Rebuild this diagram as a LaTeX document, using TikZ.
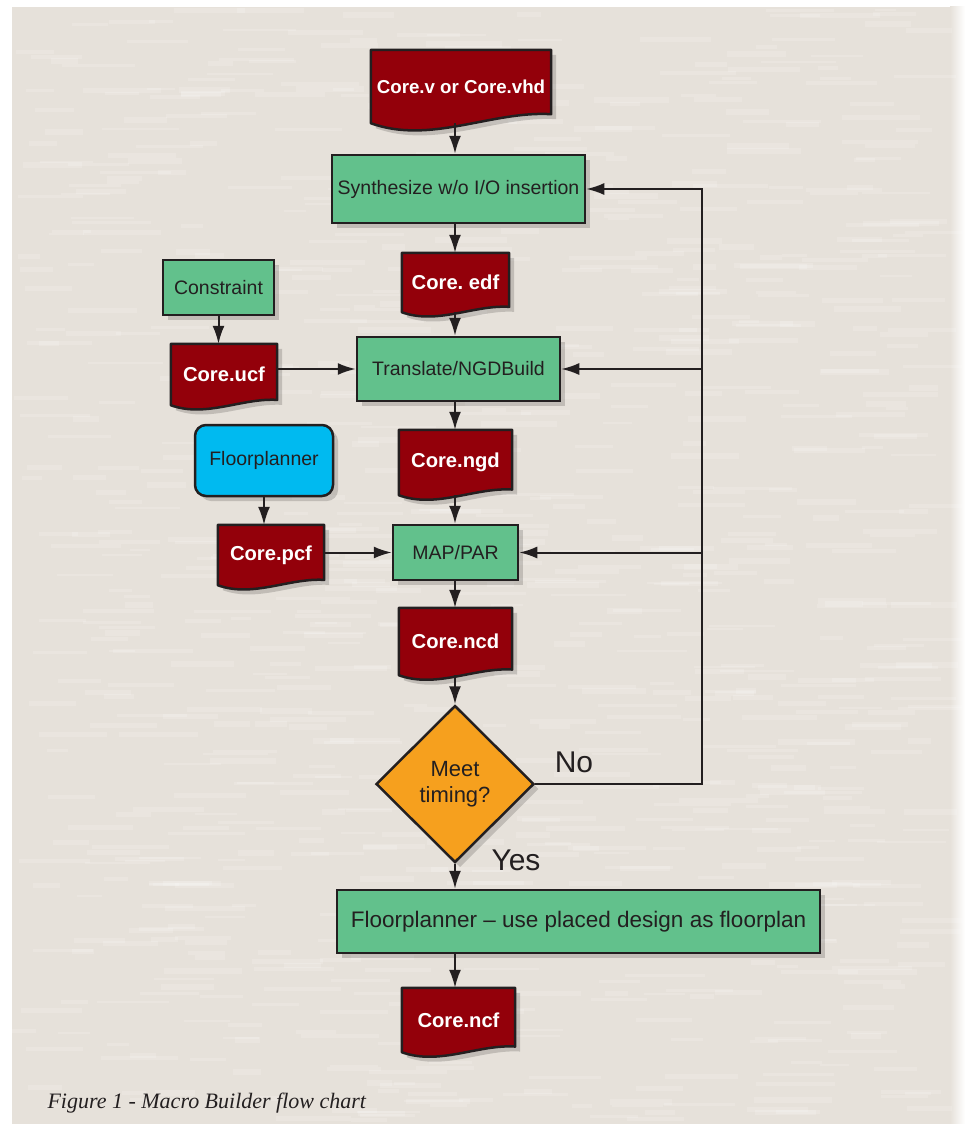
\documentclass[tikz,border=0pt]{standalone}
\usepackage{fontspec}
\setmainfont{Liberation Sans}
\newfontfamily\capfont{Liberation Serif}
\usepackage{tikz}
\usetikzlibrary{arrows.meta,backgrounds,calc,shadows,shapes.geometric}

\definecolor{procgreen}{RGB}{98,193,140}
\definecolor{docred}{RGB}{147,0,10}
\definecolor{toolcyan}{RGB}{0,186,240}
\definecolor{decideorange}{RGB}{246,160,30}
\definecolor{lineblk}{RGB}{35,31,32}
\definecolor{paper}{RGB}{230,225,218}

% document symbol drawn round a named node: flat top, wavy bottom
\newcommand{\docfile}[1]{%
  \path[docline] let \p1=(#1.south west), \p2=(#1.north east), \n1={\x2-\x1} in
    (\x1,\y2) -- (\x2,\y2) -- (\x2,{\y1+0.05*\n1})
    .. controls ({\x1+0.67*\n1},{\y1+0.07*\n1}) and ({\x1+0.33*\n1},{\y1-0.12*\n1}) .. (\x1,\y1)
    -- cycle;}

\begin{document}
\frenchspacing
\begin{tikzpicture}[
  x=1pt,y=-1pt,
  shade/.style={drop shadow={shadow xshift=5pt,shadow yshift=-5pt,fill=black,opacity=0.16}},
  proc/.style={rectangle,draw=lineblk,line width=2.5pt,fill=procgreen,inner sep=0pt,
    text=lineblk,font=\fontsize{19.5}{22}\selectfont,shade},
  tool/.style={proc,fill=toolcyan,rounded corners=11pt},
  doc/.style={rectangle,inner sep=0pt,text=white,font=\bfseries\fontsize{20.2}{22}\selectfont},
  docline/.style={fill=docred,draw=lineblk,line width=2.5pt,line join=round,shade},
  decide/.style={diamond,draw=lineblk,line width=2.5pt,fill=decideorange,inner sep=0pt,
    text=lineblk,align=center,font=\fontsize{22}{26}\selectfont,shade},
  flow/.style={draw=lineblk,line width=2pt,-{Latex[length=18pt,width=12pt]}},
  lbl/.style={text=lineblk,font=\fontsize{30}{32}\selectfont},
  caption/.style={text=lineblk,font=\capfont\itshape\fontsize{22}{24}\selectfont}
]
  \useasboundingbox (0,0) rectangle (965,1124);
  \begin{scope}[on background layer]
    \fill[paper] (12,7) rectangle (955,1124);
    \fill[left color=paper,right color=white] (950,7) rectangle (965,1124);
    % paper grain
    \pgfmathsetseed{4711}
    \foreach \i in {1,...,900}{
      \pgfmathsetmacro{\gx}{12+rnd*900}
      \pgfmathsetmacro{\gy}{10+rnd*1110}
      \pgfmathsetmacro{\gl}{20+rnd*60}
      \pgfmathsetmacro{\gw}{2+rnd*4}
      \draw[white,opacity=0.16,line width=\gw pt] (\gx,\gy) -- ++(\gl,0);
    }
  \end{scope}

  \coordinate (spine) at (455,0);
  \coordinate (loop)  at (702,784);

  % main column
  \node[doc,minimum width=180pt,minimum height=73pt,font=\bfseries\fontsize{18.7}{22}\selectfont]
    (corev) at (461,86.5) {Core.v or Core.vhd};
  \node[proc,minimum width=253pt,minimum height=68pt] (synth)  at (458.5,189) {Synthesize w/o I/O insertion};
  \node[doc,minimum width=107pt,minimum height=59pt] (coreedf)  at (455.5,282.5) {Core. edf};
  \node[proc,minimum width=203pt,minimum height=64pt] (transl) at (458.5,369) {Translate/NGDBuild};
  \node[doc,minimum width=113pt,minimum height=65pt] (corengd)  at (455.5,462.5) {Core.ngd};
  \node[proc,minimum width=125pt,minimum height=55pt] (mappar) at (455.5,552.5) {MAP/PAR};
  \node[doc,minimum width=113pt,minimum height=67pt] (corencd)  at (455.5,641.5) {Core.ncd};
  \node[decide,minimum width=158pt,minimum height=157pt] (timing) at (455,784) {Meet\\timing?};
  \node[proc,minimum width=483pt,minimum height=63pt,font=\fontsize{22.5}{24}\selectfont]
    (final) at (578.5,921.5) {Floorplanner -- use placed design as floorplan};
  \node[doc,minimum width=113pt,minimum height=64pt] (corencf)  at (458.5,1020) {Core.ncf};

  % side inputs
  \node[proc,minimum width=111pt,minimum height=55pt] (constr)  at (218.5,287.5) {Constraint};
  \node[doc,minimum width=106pt,minimum height=61pt] (coreucf)   at (224,374.5)   {Core.ucf};
  \node[tool,minimum width=138pt,minimum height=71pt] (floorpl) at (264,460.5)   {Floorplanner};
  \node[doc,minimum width=106pt,minimum height=60pt] (corepcf)   at (271,555)     {Core.pcf};

  \begin{scope}[on background layer]
    \docfile{corev}
    \docfile{coreedf}
    \docfile{corengd}
    \docfile{corencd}
    \docfile{corencf}
    \docfile{coreucf}
    \docfile{corepcf}
  \end{scope}

  \draw[flow] (corev.south -| spine)   -- (synth.north -| spine);
  \draw[flow] (synth.south -| spine)   -- (coreedf.north -| spine);
  \draw[flow] (coreedf.south -| spine) -- (transl.north -| spine);
  \draw[flow] (transl.south -| spine)  -- (corengd.north -| spine);
  \draw[flow] (corengd.south -| spine) -- (mappar.north -| spine);
  \draw[flow] (mappar.south -| spine)  -- (corencd.north -| spine);
  \draw[flow] (corencd.south -| spine) -- (timing.north);
  \draw[flow] (timing.south) -- (final.north -| timing);
  \draw[flow] (final.south -| spine)   -- (corencf.north -| spine);

  \draw[flow] (constr) -- (coreucf.north -| constr);
  \draw[flow] (coreucf.east |- transl) -- (transl.west);
  \draw[flow] (floorpl) -- (corepcf.north -| floorpl);
  \draw[flow] (corepcf.east |- mappar) -- (mappar.west);

  % timing not met: back to the tools
  \draw[flow] (timing.east) -- (loop) |- (synth.east);
  \draw[flow] (loop |- transl) -- (transl.east);
  \draw[flow] (loop |- mappar) -- (mappar.east);

  \node[lbl] (nolbl)  at (574,762) {No};
  \node[lbl] (yeslbl) at (516,860) {Yes};

  \node[caption,anchor=west] (figcap) at (44,1103) {Figure 1 - Macro Builder flow chart};
\end{tikzpicture}
\end{document}
